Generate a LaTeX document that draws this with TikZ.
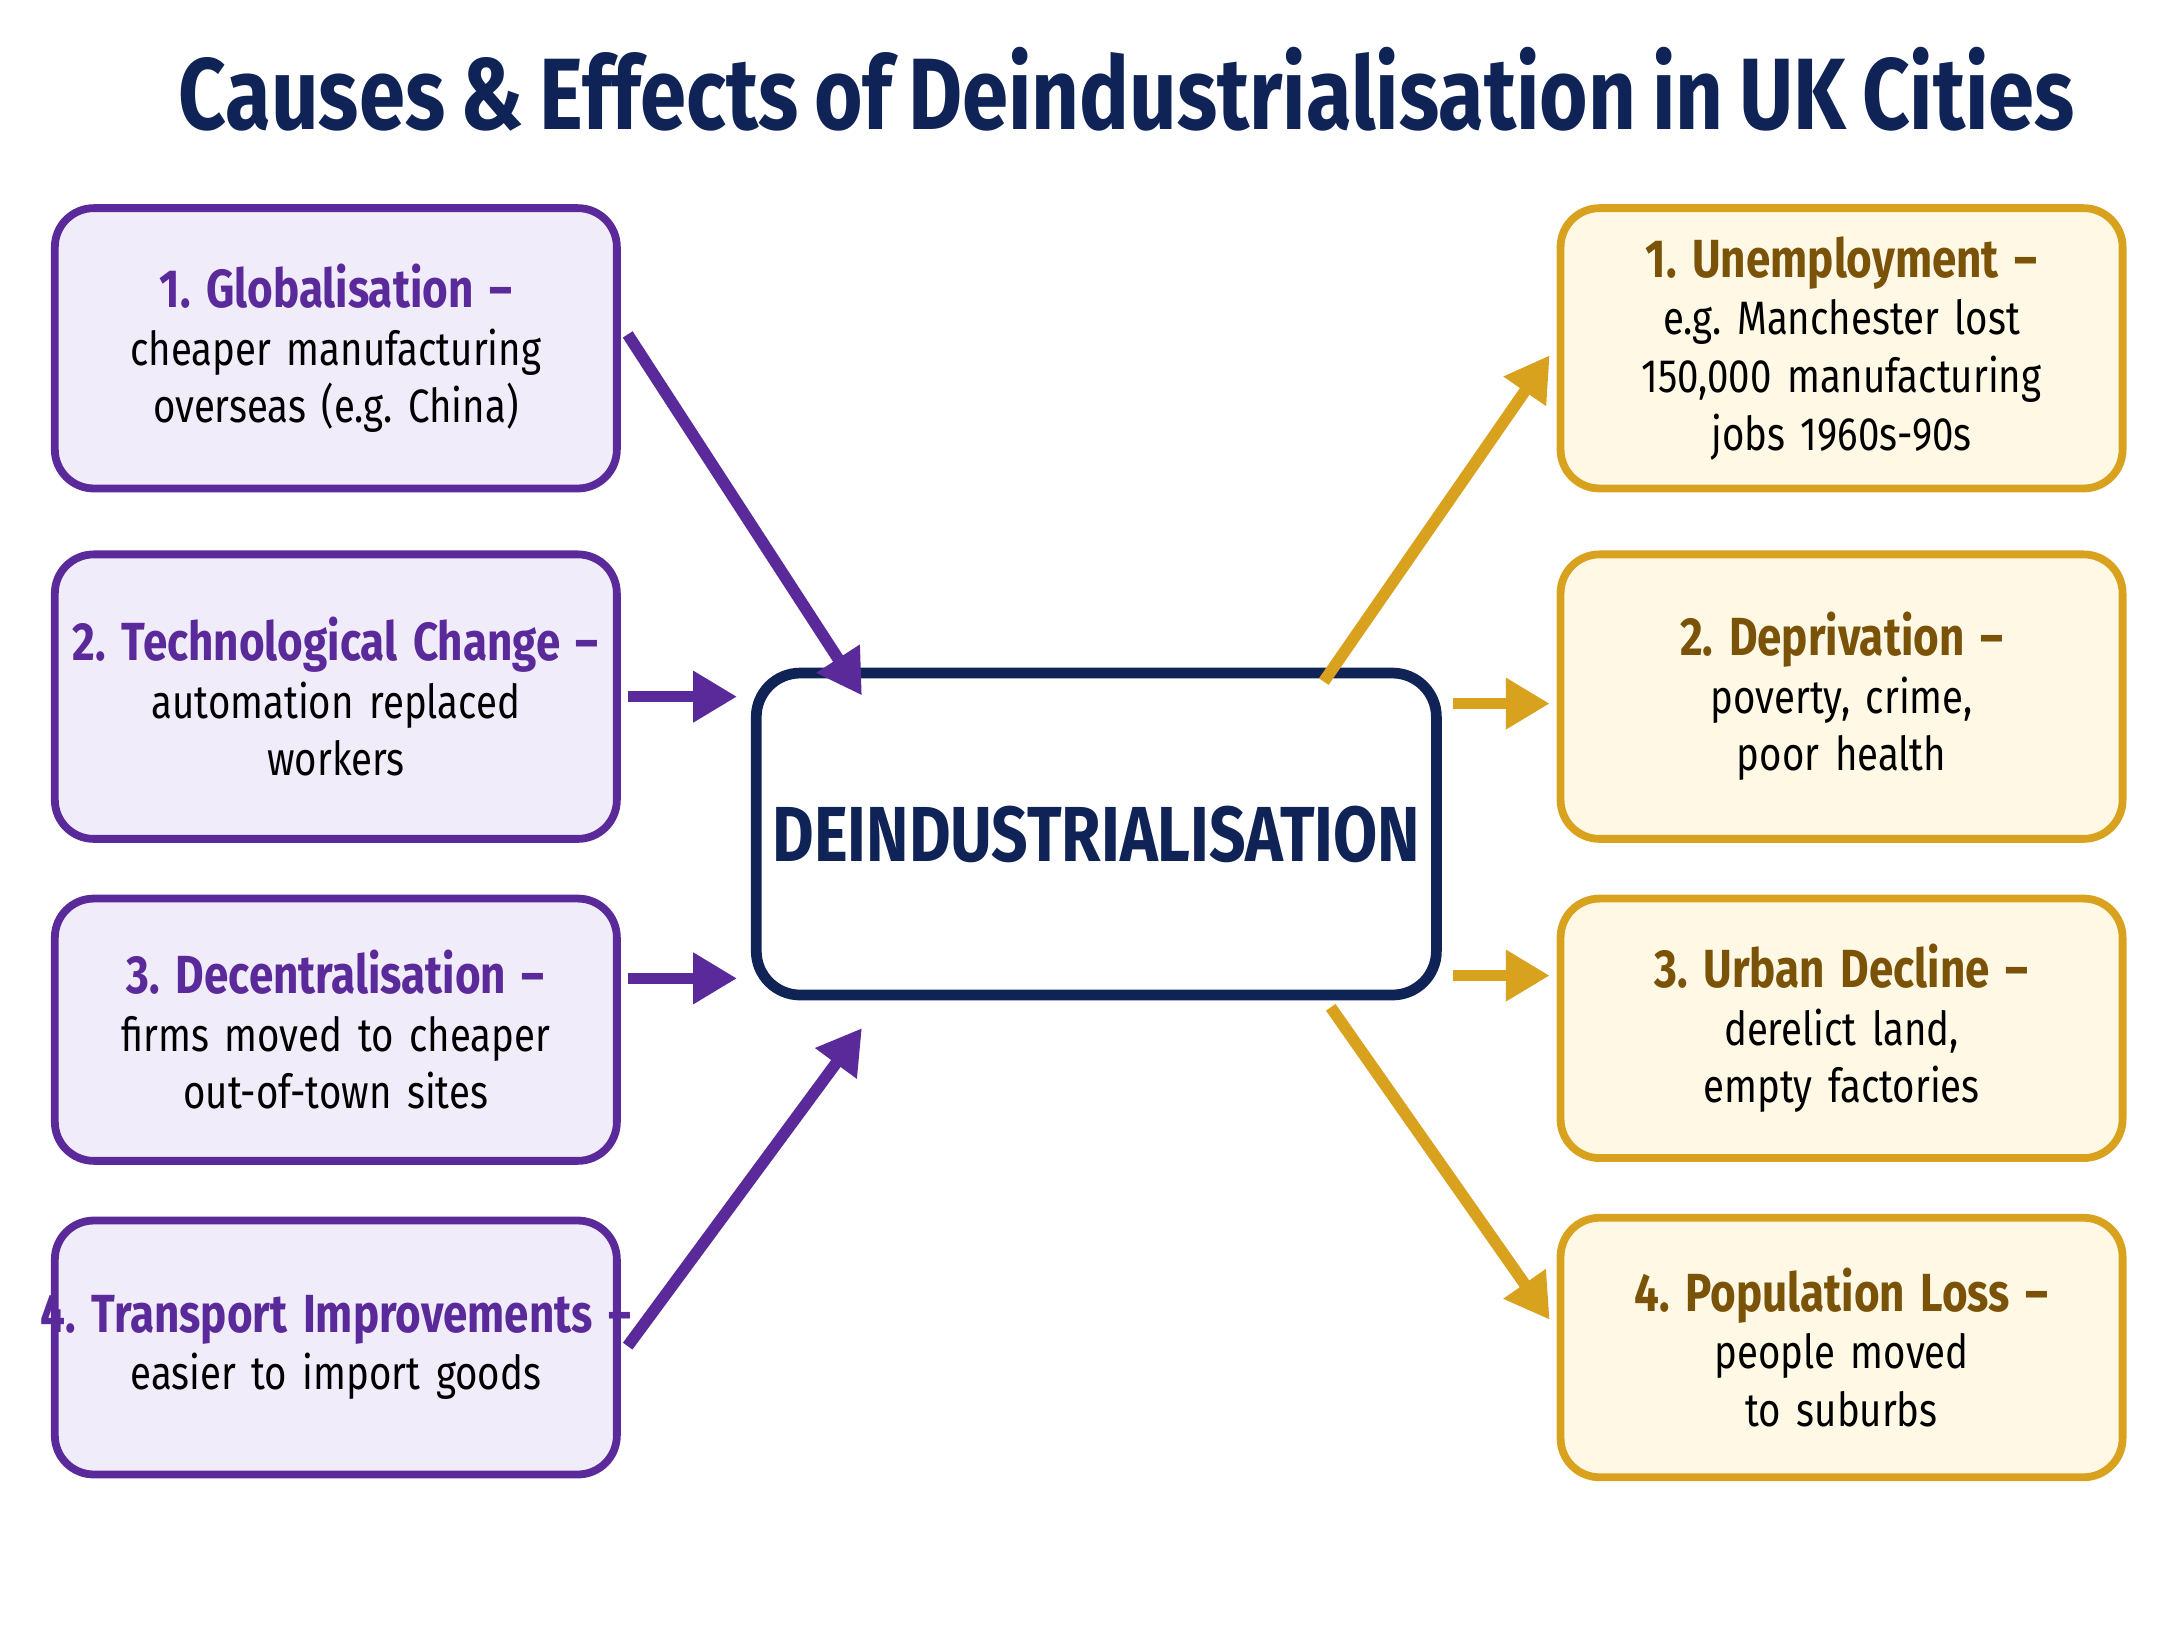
\documentclass[tikz,border=0pt]{standalone}
\usepackage{fontspec}
\setmainfont[FakeStretch=0.82,WordSpace=0.8]{Fira Sans}
\frenchspacing
\usetikzlibrary{arrows.meta,positioning,calc}
\definecolor{navy}{HTML}{0F2356}
\definecolor{purp}{HTML}{5A2A9A}
\definecolor{purpfill}{HTML}{F1ECFA}
\definecolor{gold}{HTML}{D9A21E}
\definecolor{goldtxt}{HTML}{7A5208}
\definecolor{goldfill}{HTML}{FEF8E4}
\tikzset{
  cause/.style={draw=purp, fill=purpfill, line width=1.6pt, rounded corners=8pt,
    minimum width=4.05cm, text width=3.8cm, align=center, font=\fontsize{9.6}{11.8}\selectfont},
  effect/.style={draw=gold, fill=goldfill, line width=1.6pt, rounded corners=8pt,
    minimum width=4.05cm, text width=3.8cm, align=center, font=\fontsize{9.6}{11.8}\selectfont},
  carrow/.style={draw=purp, line width=2.4pt, -{Triangle[length=9pt,width=10pt]}},
  earrow/.style={draw=gold, line width=2.4pt, -{Triangle[length=9pt,width=10pt]}},
}
\newcommand\ctitle[1]{\makebox[0pt]{\color{purp}\bfseries\fontsize{11}{15}\selectfont #1}}
\newcommand\etitle[1]{\makebox[0pt]{\color{goldtxt}\bfseries\fontsize{11}{15}\selectfont #1}}
\begin{document}
\begin{tikzpicture}
    \useasboundingbox (0,0) rectangle (15.68,-11.76);
    \node[font=\bfseries\fontsize{20.8}{24}\selectfont, text=navy] (title) at (8.12,-0.64)
      {Causes \& Effects of Deindustrialisation in UK Cities};

    % causes
    \node[cause, minimum height=2.02cm] (c1) at (2.42,-2.51)
      {\ctitle{1. Globalisation --}\\ cheaper manufacturing\\ overseas (e.g. China)};
    \node[cause, minimum height=2.05cm] (c2) at (2.42,-5.02)
      {\ctitle{2. Technological Change --}\\ automation replaced\\ workers};
    \node[cause, minimum height=1.89cm] (c3) at (2.42,-7.42)
      {\ctitle{3. Decentralisation --}\\ firms moved to cheaper\\ out-of-town sites};
    \node[cause, minimum height=1.83cm] (c4) at (2.42,-9.71)
      {\ctitle{4. Transport Improvements --}\\ easier to import goods};

    % centre
    \node[draw=navy, fill=white, line width=2.2pt, rounded corners=9pt,
      minimum width=4.9cm, minimum height=2.32cm, text=navy,
      font=\bfseries\fontsize{16}{20}\selectfont] (core) at (7.9,-6.01) {DEINDUSTRIALISATION};

    % effects
    \node[effect, minimum height=2.02cm] (e1) at (13.27,-2.51)
      {\etitle{1. Unemployment --}\\ e.g. Manchester lost\\ 150,000 manufacturing\\ jobs 1960s-90s};
    \node[effect, minimum height=2.05cm] (e2) at (13.27,-5.02)
      {\etitle{2. Deprivation --}\\ poverty, crime,\\ poor health};
    \node[effect, minimum height=1.87cm] (e3) at (13.27,-7.41)
      {\etitle{3. Urban Decline --}\\ derelict land,\\ empty factories};
    \node[effect, minimum height=1.87cm] (e4) at (13.27,-9.71)
      {\etitle{4. Population Loss --}\\ people moved\\ to suburbs};

    \draw[carrow] ($(c1.east)+(0.05,0.1)$) -- ($(core.north west)+(0.8,-0.2)$);
    \draw[carrow] ($(c2.east)+(0.05,0)$) -- ($(core.west |- c2.east)+(-0.1,0)$);
    \draw[carrow] ($(c3.east)+(0.05,0.37)$) -- ($(core.west |- c3.east)+(-0.1,0.37)$);
    \draw[carrow] ($(c4.east)+(0.05,0.01)$) -- ($(core.south west)+(0.8,-0.2)$);

    \draw[earrow] ($(core.north east)+(-0.85,-0.1)$) -- ($(e1.west)+(-0.05,-0.05)$);
    \draw[earrow] ($(core.east |- e2.west)+(0.08,-0.05)$) -- ($(e2.west)+(-0.05,-0.05)$);
    \draw[earrow] ($(core.east |- e3.west)+(0.08,0.38)$) -- ($(e3.west)+(-0.05,0.38)$);
    \draw[earrow] ($(core.south east)+(-0.8,-0.05)$) -- ($(e4.west)+(-0.05,0.2)$);
\end{tikzpicture}
\end{document}
